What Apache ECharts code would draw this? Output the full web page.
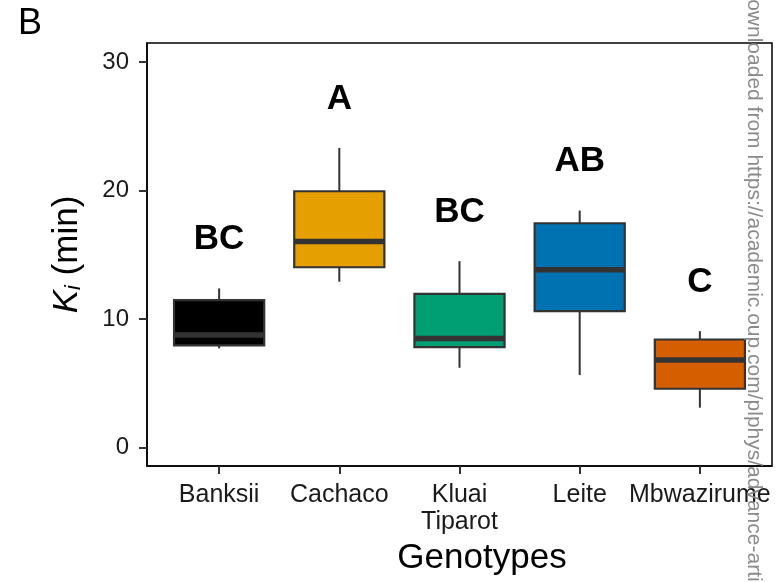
<!DOCTYPE html>
<html>
<head>
<meta charset="utf-8">
<title>Ki by genotype</title>
<script src="https://cdn.jsdelivr.net/npm/echarts@6/dist/echarts.min.js"></script>
<style>
  html, body { margin: 0; padding: 0; background: #fff; }
  #chart { width: 783px; height: 582px; }
</style>
</head>
<body>
<div id="chart"></div>
<script>
// Genotypes along the x axis
const genotypes = ['Banksii', 'Cachaco', 'Kluai\nTiparot', 'Leite', 'Mbwazirume'];
// Five-number summaries (min, Q1, median, Q3, max) of Ki in minutes
const kiMin    = [7.72, 12.90, 6.21, 5.64, 3.11];
const kiQ1     = [7.95, 14.03, 7.82, 10.62, 4.58];
const kiMedian = [8.75, 16.03, 8.49, 13.83, 6.81];
const kiQ3     = [11.47, 19.94, 11.96, 17.45, 8.41];
const kiMax    = [12.38, 23.31, 14.50, 18.44, 9.06];
// Significance groups shown above each box
const groupLetters = ['BC', 'A', 'BC', 'AB', 'C'];
// Y axis tick values
const yTicks = [0, 10, 20, 30];

const fillColors = ['#000000', '#E69F00', '#009E73', '#0072B2', '#D55E00'];
const FONT = '"Liberation Sans", Arial, sans-serif';
const LETTER_OFFSET = 3.8; // letters sit this far (in min) above the upper whisker
const BOX_WIDTH = 0.75;    // box width in category units

const xPositions = genotypes.map((_, i) => i + 1);
const boxData = genotypes.map((_, i) => [i + 1, kiMin[i], kiQ1[i], kiMedian[i], kiQ3[i], kiMax[i]]);
const letterData = genotypes.map((_, i) => ({ value: [i + 1, kiMax[i] + LETTER_OFFSET], name: groupLetters[i] }));

const chart = echarts.init(document.getElementById('chart'));

function renderBox(params, api) {
  const x = api.value(0);
  const vMin = api.value(1), q1 = api.value(2), med = api.value(3), q3 = api.value(4), vMax = api.value(5);
  const left = api.coord([x - BOX_WIDTH / 2, q3]);
  const right = api.coord([x + BOX_WIDTH / 2, q1]);
  const top = api.coord([x, vMax]);
  const bottom = api.coord([x, vMin]);
  const mid = api.coord([x, med]);
  const line = { stroke: '#333333', lineWidth: 2 };
  return {
    type: 'group',
    children: [
      { type: 'line', shape: { x1: top[0], y1: top[1], x2: top[0], y2: left[1] }, style: line },
      { type: 'line', shape: { x1: bottom[0], y1: right[1], x2: bottom[0], y2: bottom[1] }, style: line },
      {
        type: 'rect',
        shape: { x: left[0], y: left[1], width: right[0] - left[0], height: right[1] - left[1] },
        style: { fill: fillColors[params.dataIndex], stroke: '#333333', lineWidth: 2.2 }
      },
      { type: 'line', shape: { x1: left[0], y1: mid[1], x2: right[0], y2: mid[1] }, style: { stroke: '#333333', lineWidth: 5.5 } }
    ]
  };
}

chart.setOption({
  animation: false,
  backgroundColor: '#ffffff',
  grid: {
    left: 147, right: 11, top: 43, bottom: 116,
    show: true, borderColor: '#000000', borderWidth: 1.5, backgroundColor: 'transparent'
  },
  xAxis: {
    type: 'value',
    min: 0.4, max: 5.6,
    name: 'Genotypes',
    nameLocation: 'middle',
    nameGap: 73,
    nameTextStyle: { fontFamily: FONT, fontSize: 35, color: '#000', padding: [0, 0, 0, 45] },
    axisLine: { show: true, onZero: false, lineStyle: { color: '#000', width: 1.5 } },
    axisTick: { show: true, customValues: xPositions, length: 8, lineStyle: { color: '#333', width: 2 } },
    axisLabel: {
      customValues: xPositions,
      formatter: v => genotypes[Math.round(v) - 1] || '',
      fontFamily: FONT, fontSize: 25, color: '#1a1a1a', margin: 16, lineHeight: 27
    },
    splitLine: { show: false }
  },
  yAxis: {
    type: 'value',
    min: -1.43, max: 31.47,
    name: '{k|K}{i|i}{p| (min)}',
    nameLocation: 'middle',
    nameRotate: 90,
    nameGap: 62,
    nameTextStyle: {
      fontFamily: FONT, color: '#000',
      rich: {
        k: { fontFamily: FONT, fontSize: 35, fontStyle: 'italic', lineHeight: 46, verticalAlign: 'bottom', color: '#000' },
        i: { fontFamily: FONT, fontSize: 22, fontStyle: 'italic', lineHeight: 22, verticalAlign: 'bottom', color: '#000' },
        p: { fontFamily: FONT, fontSize: 35, lineHeight: 46, verticalAlign: 'bottom', color: '#000' }
      }
    },
    axisLine: { show: true, onZero: false, lineStyle: { color: '#000', width: 1.5 } },
    axisTick: { show: true, customValues: yTicks, length: 8, lineStyle: { color: '#333', width: 2 } },
    axisLabel: {
      customValues: yTicks,
      fontFamily: FONT, fontSize: 24, color: '#1a1a1a', margin: 18
    },
    splitLine: { show: false }
  },
  series: [
    {
      type: 'custom',
      renderItem: renderBox,
      encode: { x: 0, y: [1, 2, 3, 4, 5] },
      data: boxData,
      z: 2
    },
    {
      type: 'scatter',
      symbolSize: 0,
      itemStyle: { opacity: 1 },
      data: letterData,
      label: {
        show: true, position: 'inside', formatter: p => p.name,
        fontFamily: FONT, fontSize: 35, fontWeight: 'bold', color: '#000000',
        textBorderWidth: 0, opacity: 1
      },
      z: 3
    }
  ],
  graphic: [
    {
      type: 'text', left: 18, top: 6,
      style: { text: 'B', font: '36px ' + FONT, fill: '#000' }
    },
    {
      type: 'text', x: 754, y: -16, rotation: -Math.PI / 2, z: 100,
      style: {
        text: 'Downloaded from https://academic.oup.com/plphys/advance-article',
        font: '21px ' + FONT, fill: '#8a8a8a', textAlign: 'left', textVerticalAlign: 'middle'
      }
    }
  ]
});
</script>
</body>
</html>
